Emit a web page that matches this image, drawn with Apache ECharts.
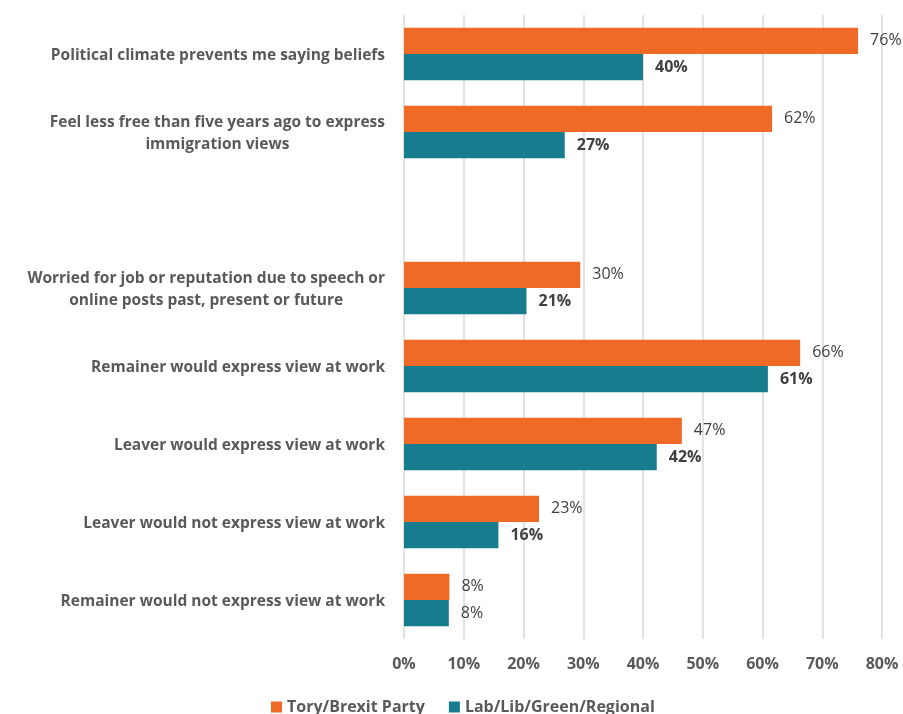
<!DOCTYPE html>
<html><head><meta charset="utf-8">
<script src="https://cdn.jsdelivr.net/npm/echarts@6/dist/echarts.min.js"></script>
<style>html,body{margin:0;padding:0;background:#fff}#c{width:903px;height:714px}</style>
</head><body><div id="c"></div>
<script>
const categories = [
  'Political climate prevents me saying beliefs',
  'Feel less free than five years ago to express\nimmigration views',
  '',
  'Worried for job or reputation due to speech or\nonline posts past, present or future',
  'Remainer would express view at work',
  'Leaver would express view at work',
  'Leaver would not express view at work',
  'Remainer would not express view at work'
];
const toryValues = [76, 61.6, null, 29.5, 66.3, 46.5, 22.6, 7.6];
const labValues  = [40, 26.9, null, 20.5, 60.9, 42.3, 15.8, 7.5];
const xTicks = [0, 10, 20, 30, 40, 50, 60, 70, 80];
const seriesNames = ['Tory/Brexit Party', 'Lab/Lib/Green/Regional'];

const FONT = '"Open Sans", Lato, sans-serif';
const chart = echarts.init(document.getElementById('c'), null, {renderer: 'canvas'});
chart.setOption({
  animation: false,
  textStyle: {fontFamily: FONT},
  grid: {left: 404, right: 21, top: 15, height: 624, containLabel: false},
  xAxis: {
    type: 'value', min: xTicks[0], max: xTicks[xTicks.length - 1], interval: 10,
    axisLine: {show: false}, axisTick: {show: false},
    splitLine: {show: true, lineStyle: {color: '#d9d9d9', width: 1.5}},
    axisLabel: {formatter: v => v + '%', color: '#595959', fontSize: 16, fontWeight: 'bold', margin: 17, fontFamily: FONT}
  },
  yAxis: {
    type: 'category', data: categories, inverse: true,
    axisLine: {show: false}, axisTick: {show: false},
    axisLabel: {
      margin: 19, color: '#595959', fontSize: 15.5, fontWeight: 'bold', fontFamily: FONT, lineHeight: 22,
      formatter: v => v ? v.split('\n').map(l => '{c|' + l + '}').join('\n') : '',
      rich: {c: {align: 'center', color: '#595959', fontSize: 15.5, fontWeight: 'bold', fontFamily: FONT, lineHeight: 22, padding: [3, 0, 0, 0]}}
    }
  },
  legend: {
    bottom: -6, left: 266, itemWidth: 11, itemHeight: 11, itemGap: 24,
    icon: 'rect',
    textStyle: {color: '#595959', fontSize: 16, fontWeight: 'bold', fontFamily: FONT},
    data: seriesNames
  },
  series: [
    {
      name: seriesNames[0], type: 'bar', data: toryValues, barGap: '0%', barCategoryGap: '33%',
      itemStyle: {color: '#EF6A26'},
      label: {show: true, position: 'right', distance: 12, color: '#404040', fontSize: 16, fontFamily: FONT,
        formatter: p => Math.round(p.value) + '%'}
    },
    {
      name: seriesNames[1], type: 'bar',
      data: labValues.map((v, i) => i === labValues.length - 1 ? {value: v, label: {fontWeight: 'normal'}} : v),
      itemStyle: {color: '#177C8D'},
      label: {show: true, position: 'right', distance: 12, color: '#404040', fontSize: 16, fontWeight: 'bold', fontFamily: FONT,
        formatter: p => Math.round(p.value) + '%'}
    }
  ]
});
</script></body></html>
